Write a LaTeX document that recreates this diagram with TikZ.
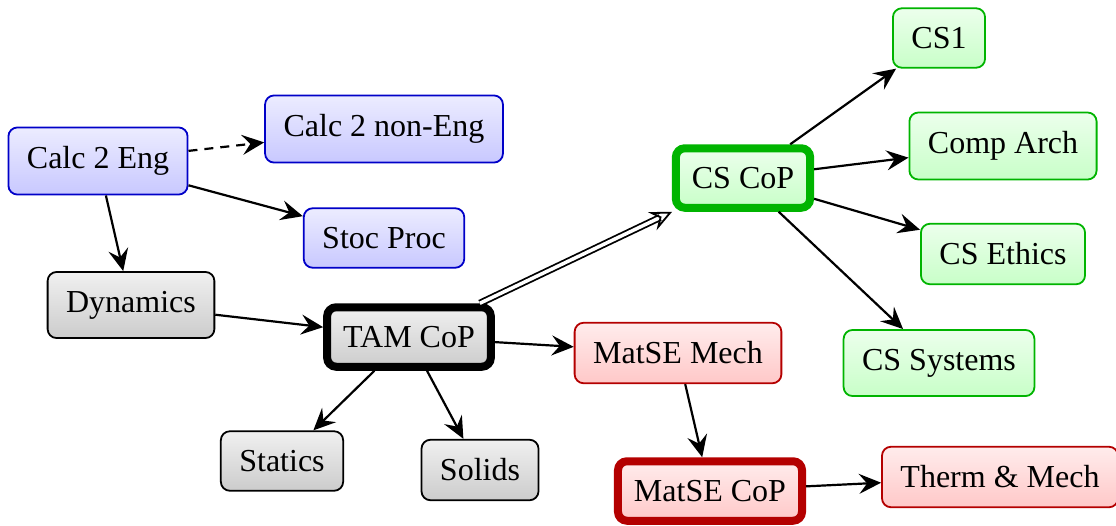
\documentclass[tikz,border=0pt]{standalone}
\usepackage{fontspec}
\setmainfont{Liberation Serif}
\usetikzlibrary{arrows.meta}
\definecolor{bborder}{RGB}{0,0,200}
\definecolor{btop}{RGB}{236,236,255}
\definecolor{bbot}{RGB}{200,200,255}
\definecolor{gborder}{RGB}{0,0,0}
\definecolor{gtop}{RGB}{240,240,240}
\definecolor{gbot}{RGB}{204,204,204}
\definecolor{rborder}{RGB}{180,0,0}
\definecolor{rtop}{RGB}{255,236,236}
\definecolor{rbot}{RGB}{255,200,200}
\definecolor{grborder}{RGB}{0,180,0}
\definecolor{grtop}{RGB}{236,255,236}
\definecolor{grbot}{RGB}{200,255,200}
\tikzset{
  box/.style={rounded corners=9pt, line width=1.8pt, inner xsep=18.5pt, inner ysep=19pt,
    font=\fontsize{32}{38}\selectfont},
  bluebox/.style={box, draw=bborder, top color=btop, bottom color=bbot},
  graybox/.style={box, draw=gborder, top color=gtop, bottom color=gbot},
  redbox/.style={box, draw=rborder, top color=rtop, bottom color=rbot},
  greenbox/.style={box, draw=grborder, top color=grtop, bottom color=grbot},
  cop/.style={line width=8pt, inner xsep=16pt, inner ysep=19pt},
  conn/.style={line width=2.2pt, -{Stealth[length=22pt,width=20pt,inset=8pt]}},
}
\begin{document}
\begin{tikzpicture}[x=1pt,y=-1pt]
\useasboundingbox (0,0) rectangle (1116,525);
% blue
\node[bluebox] (c2e) at (98,161) {Calc 2 Eng};
\node[bluebox] (c2n) at (384,129) {Calc 2 non-Eng};
\node[bluebox] (sp) at (384,238) {Stoc Proc};
% gray
\node[graybox] (dyn) at (131,305) {Dynamics};
\node[graybox,cop] (tam) at (409,337) {TAM CoP};
\node[graybox] (sta) at (282,461) {Statics};
\node[graybox] (sol) at (480,470) {Solids};
% red
\node[redbox] (mm) at (678,353) {MatSE Mech};
\node[redbox,cop] (mc) at (710,491) {MatSE CoP};
\node[redbox] (tm) at (1000,477) {Therm \& Mech};
% green
\node[greenbox,cop] (cs) at (743,178) {CS CoP};
\node[greenbox] (cs1) at (939,38) {CS1};
\node[greenbox] (ca) at (1003,146) {Comp Arch};
\node[greenbox] (ce) at (1003,254) {CS Ethics};
\node[greenbox] (csy) at (939,363) {CS Systems};
% connectors
\draw[conn,dashed,dash pattern=on 9pt off 7pt] (c2e) -- (c2n);
\draw[conn] (c2e) -- (sp);
\draw[conn] (c2e) -- (dyn);
\draw[conn] (dyn) -- (tam);
\draw[conn] (tam) -- (sta);
\draw[conn] (tam) -- (sol);
\draw[conn] (tam) -- (mm);
\draw[line width=1.8pt, double, double distance=3.5pt, -{Stealth[length=22pt,width=20pt,inset=8pt,open]}] (tam) -- (cs);
\draw[conn] (mm) -- (mc);
\draw[conn] (mc) -- (tm);
\draw[conn] (cs) -- (cs1);
\draw[conn] (cs) -- (ca);
\draw[conn] (cs) -- (ce);
\draw[conn] (cs) -- (csy);
\end{tikzpicture}
\end{document}
